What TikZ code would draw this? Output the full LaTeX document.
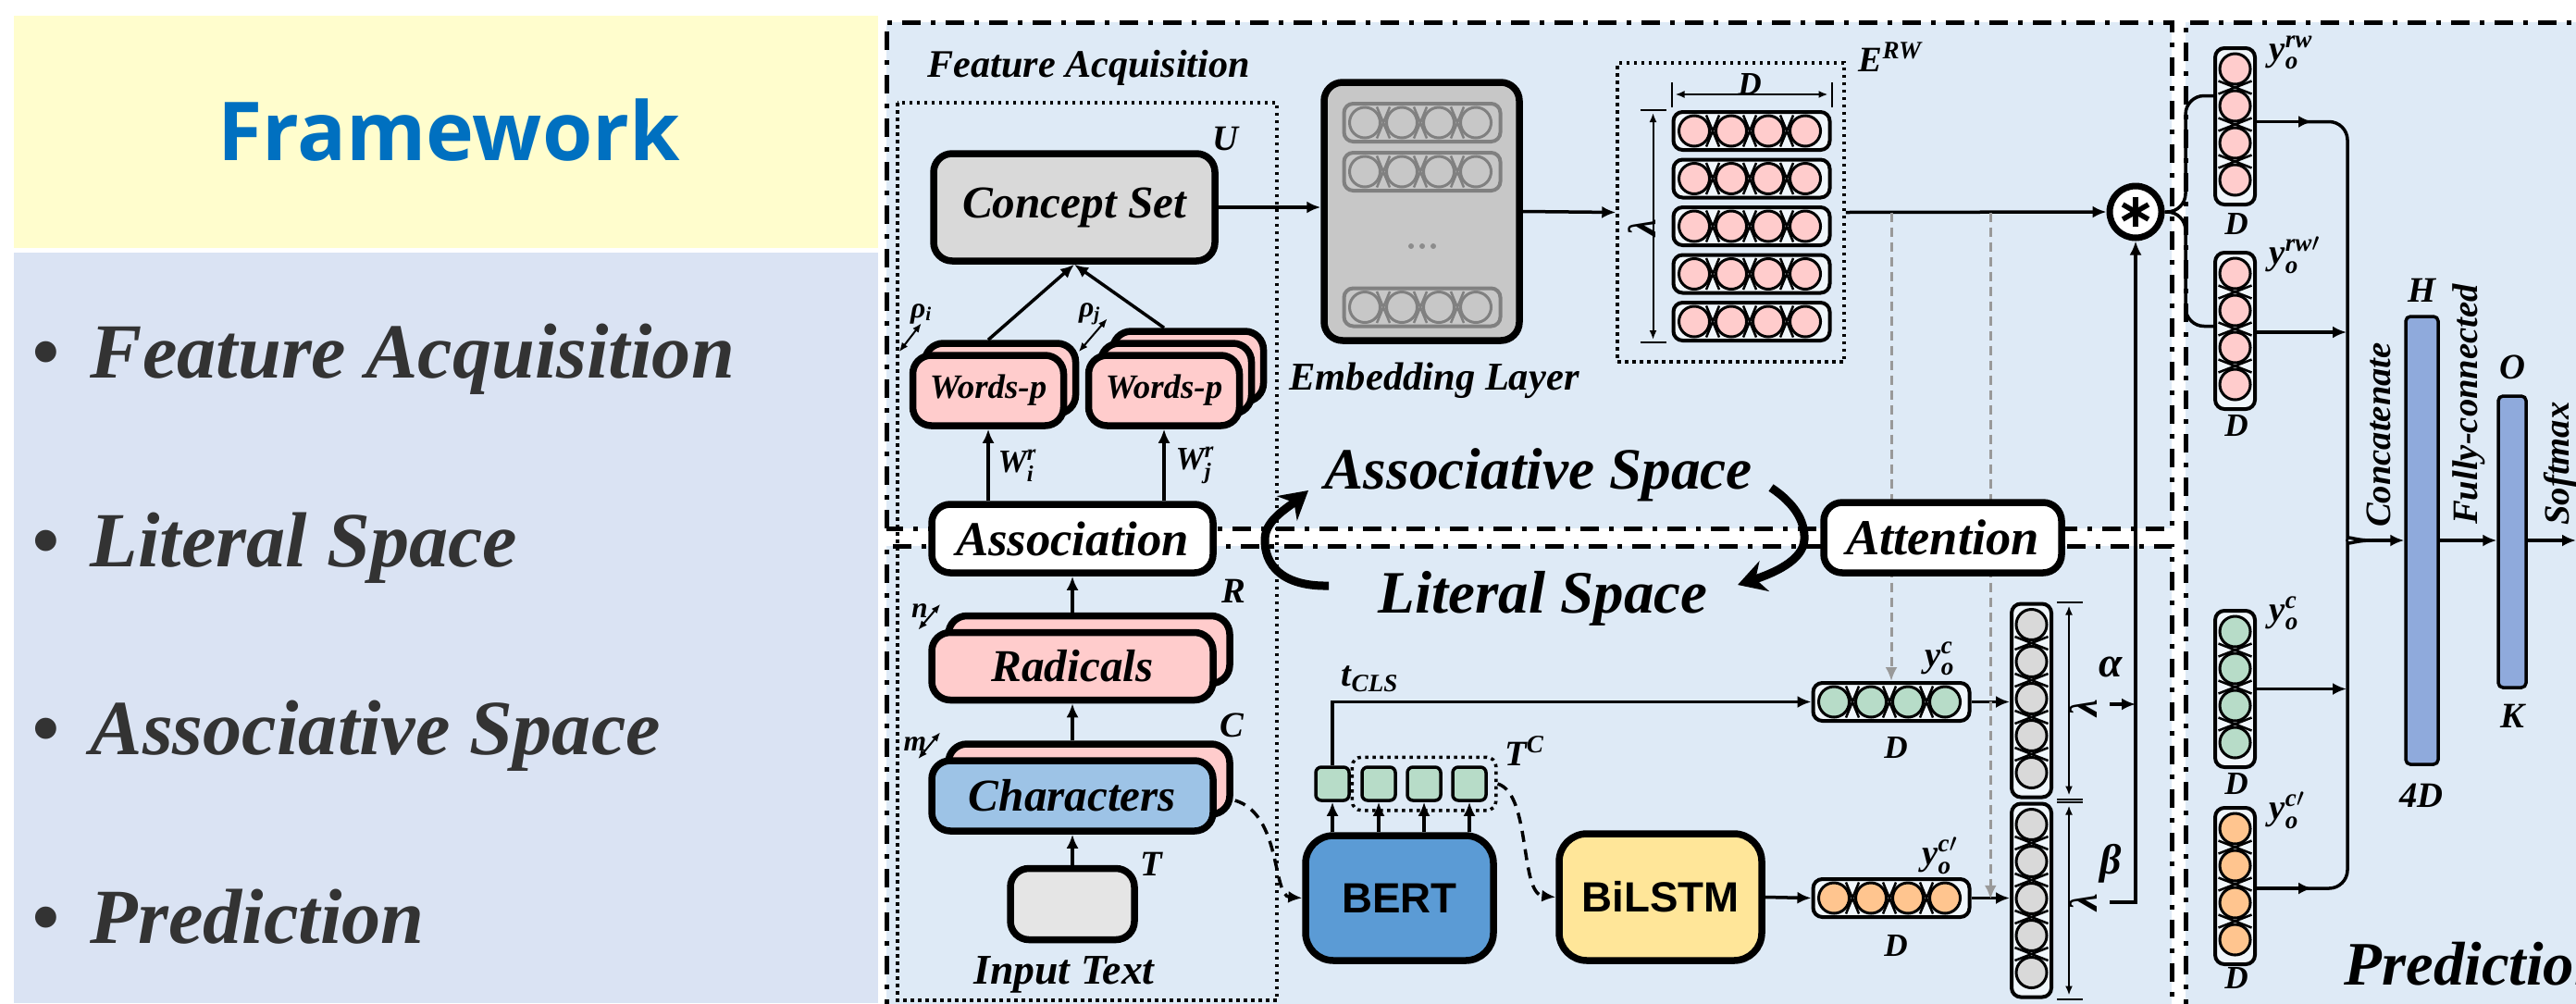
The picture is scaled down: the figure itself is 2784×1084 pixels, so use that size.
\documentclass[tikz,border=0pt]{standalone}
\usepackage{amsmath}
\usepackage{fontspec}
\setmainfont{Liberation Serif}
\newfontfamily\sansbold{Liberation Sans}
\newfontfamily\titlefont{Open Sans}
\usetikzlibrary{arrows.meta,calc,fit}

\definecolor{titleblue}{RGB}{0,112,192}
\definecolor{titlebg}{RGB}{255,253,205}
\definecolor{panelbg}{RGB}{218,227,243}
\definecolor{diagbg}{RGB}{222,234,246}
\definecolor{pinkc}{RGB}{255,204,204}
\definecolor{charblue}{RGB}{157,195,230}
\definecolor{bertblue}{RGB}{91,155,213}
\definecolor{lstmyellow}{RGB}{255,230,153}
\definecolor{greenc}{RGB}{183,220,200}
\definecolor{orangec}{RGB}{255,197,143}
\definecolor{grayc}{RGB}{217,217,217}
\definecolor{barblue}{RGB}{143,170,220}
\definecolor{bullettext}{RGB}{51,51,51}

\newcommand{\fsz}[1]{\fontsize{#1}{#1}\selectfont}

% horizontal vector: [line colour]{name}{centre}{cell fill}{cells}
\newcommand{\hvec}[5][black]{%
  \node[vecbox, draw=#1, minimum width=#5*4mm+0.9mm, minimum height=4.1mm] (#2) at #3 {};
  \foreach \k in {1,...,#5}{\ifnum\k<#5\relax
    \draw[#1, line width=0.25mm] ($(#2.west)+(40*\k-2.5,-17)$) -- ($(#2.west)+(40*\k+11.5,17)$)
      ($(#2.west)+(40*\k-2.5,17)$) -- ($(#2.west)+(40*\k+11.5,-17)$);\fi}
  \foreach \k in {1,...,#5}
    \filldraw[fill=#4, draw=#1, line width=0.3mm] ($(#2.west)+(40*\k-15.5,0)$) circle (1.65mm);
}
% vertical vector
\newcommand{\vvec}[5][black]{%
  \node[vecbox, draw=#1, minimum height=#5*4mm+0.9mm, minimum width=4.3mm] (#2) at #3 {};
  \foreach \k in {1,...,#5}{\ifnum\k<#5\relax
    \draw[#1, line width=0.25mm] ($(#2.north)+(-18,40*\k-2.5)$) -- ($(#2.north)+(18,40*\k+11.5)$)
      ($(#2.north)+(18,40*\k-2.5)$) -- ($(#2.north)+(-18,40*\k+11.5)$);\fi}
  \foreach \k in {1,...,#5}
    \filldraw[fill=#4, draw=#1, line width=0.3mm] ($(#2.north)+(0,40*\k-15.5)$) circle (1.65mm);
}

\begin{document}
\begin{tikzpicture}[x=0.1mm, y=-0.1mm,
  blk/.style={draw, line width=0.75mm, rounded corners=2mm, inner sep=0pt, align=center,
              font=\bfseries\itshape\fsz{#1}},
  blk/.default=12,
  vecbg/.style={fill=white!55!diagbg},
  vecbox/.style={draw, line width=0.4mm, rounded corners=1mm, inner sep=0pt, vecbg},
  sq/.style={draw, line width=0.35mm, rounded corners=0.6mm, fill=greenc, minimum size=3.6mm, inner sep=0pt},
  bar/.style={draw, line width=0.35mm, rounded corners=0.5mm, fill=barblue, inner sep=0pt},
  dotbox/.style={draw, line width=0.35mm, dash pattern=on 0.35mm off 0.45mm, inner sep=0pt},
  frame/.style={draw, line width=0.5mm, dash pattern=on 2mm off 1.1mm on 0.5mm off 1.1mm},
  arr/.style={-{Latex[length=1.5mm,width=1.3mm]}, line width=0.35mm},
  darr/.style={arr, dash pattern=on 1.2mm off 0.8mm},
  gdarr/.style={-{Latex[length=1.5mm,width=1.3mm]}, line width=0.3mm, draw=black!40, dash pattern=on 1mm off 0.6mm},
  dimarr/.style={{Latex[length=1mm,width=0.8mm]}-{Latex[length=1mm,width=0.8mm]}, line width=0.2mm},
  brace/.style={line width=0.35mm, rounded corners=2mm},
  bigarr/.style={-{Stealth[length=3mm,width=3.4mm]}, line width=0.9mm},
  lbl/.style={font=\bfseries\itshape\fsz{#1}, inner sep=0pt},
  lbl/.default=10,
  bullet/.style={anchor=base west, text=bullettext, font=\bfseries\itshape\fsz{24}, inner sep=0pt}]
  \useasboundingbox (0,0) rectangle (2784,1084);
  \fill[white] (0,0) rectangle (2784,1084);

  % left panel
  \fill[titlebg] (15,17) rectangle (949,268);
  \fill[panelbg] (15,273) rectangle (949,1084);
  \node[font=\titlefont\bfseries\fsz{25}, text=titleblue] (title) at (485,141) {Framework};
  \node[bullet] (b1) at (34,408) {\textbullet\hspace{0.4em}Feature Acquisition};
  \node[bullet] (b2) at (34,612) {\textbullet\hspace{0.4em}Literal Space};
  \node[bullet] (b3) at (34,815) {\textbullet\hspace{0.4em}Associative Space};
  \node[bullet] (b4) at (34,1019) {\textbullet\hspace{0.4em}Prediction};

  % regions
  \fill[diagbg] (958,24) rectangle (2347,571);
  \fill[diagbg] (958,590) rectangle (2347,1100);
  \fill[diagbg] (2362,24) rectangle (2800,1100);
  \draw[frame] (958,571) -- (958,24) -- (2347,24) -- (2347,571) -- cycle;
  \draw[frame] (958,1100) -- (958,590) -- (2347,590) -- (2347,1100);
  \draw[frame] (2362,1100) -- (2362,24) -- (2800,24);
  \node[lbl=12, anchor=base west] (falbl) at (1002,83) {Feature Acquisition};
  \draw[dotbox] (970,111) rectangle (1380,1081);

  % feature acquisition
  \node[blk=14, fill=black!15, minimum width=30.4mm, minimum height=11.6mm] (concept) at (1161,224) {Concept Set};
  \node[blk, fill=pinkc, minimum width=16.3mm, minimum height=7.6mm] (wordsL2) at (1081,409) {};
  \node[blk=10.5, fill=pinkc, minimum width=16.3mm, minimum height=7.6mm] (wordsL) at (1068,422) {Words-p};
  \node[blk, fill=pinkc, minimum width=16.3mm, minimum height=7.6mm] (wordsR3) at (1284,396) {};
  \node[blk, fill=pinkc, minimum width=16.3mm, minimum height=7.6mm] (wordsR2) at (1271,409) {};
  \node[blk=10.5, fill=pinkc, minimum width=16.3mm, minimum height=7.6mm] (wordsR) at (1258,422) {Words-p};
  \node[blk=15, fill=white, minimum width=30.4mm, minimum height=7.4mm] (assoc) at (1159,582) {Association};
  \node[blk, fill=pinkc, minimum width=30.4mm, minimum height=7.3mm] (radicals2) at (1177,702) {};
  \node[blk=14, fill=pinkc, minimum width=30.4mm, minimum height=7.3mm] (radicals) at (1159,720) {Radicals};
  \node[blk, fill=pinkc, minimum width=30.4mm, minimum height=7.6mm] (chars2) at (1177,842) {};
  \node[blk=14, fill=charblue, minimum width=30.4mm, minimum height=7.6mm] (chars) at (1159,860) {Characters};
  \node[blk, fill=black!10, minimum width=13.4mm, minimum height=7.7mm] (input) at (1159,977) {};
  \node[lbl=13, anchor=base] (inlbl) at (1150,1063) {Input Text};

  \node[lbl=11] (ulbl) at (1324,150) {U};
  \node[lbl=11] (rlbl) at (1333,639) {R};
  \node[lbl=11] (clbl) at (1331,784) {C};
  \node[lbl=11] (tlbl) at (1244,934) {T};
  \node[lbl=9] (rhoi) at (996,339) {ρ$_{\text{i}}$};
  \node[lbl=9] (rhoj) at (1178,339) {ρ$_{\text{j}}$};
  \node[lbl=9] (nlbl) at (994,660) {n};
  \node[lbl=9] (mlbl) at (989,804) {m};
  \node[lbl=10, anchor=west] (wi) at (1078,503) {W$^{\text{r}}_{\text{i}}$};
  \node[lbl=10, anchor=west] (wj) at (1270,503) {W$^{\text{r}}_{\text{j}}$};

  \draw[arr] (wordsL.center |- wordsL2.north) -- (concept.south);
  \draw[arr] (wordsR.center |- wordsR3.north) -- (concept.south);
  \draw[arr] (assoc.north -| wordsL) -- (wordsL.south);
  \draw[arr] (assoc.north -| wordsR) -- (wordsR.south);
  \draw[arr] (radicals.center |- radicals2.north) -- (assoc.south);
  \draw[arr] (chars.center |- chars2.north) -- (radicals.south);
  \draw[arr] (input.north) -- (chars.south);
  \draw[dimarr] ($(wordsL.north west)+(-11,0)$) -- ($(wordsL.north west)+(13,-31)$);
  \draw[dimarr] ($(wordsR.north west)+(-7,0)$) -- ($(wordsR.north west)+(24,-36)$);
  \draw[dimarr] ($(radicals.north west)+(-11,1)$) -- ($(radicals.north west)+(13,-27)$);
  \draw[dimarr] ($(chars.north west)+(-11,2)$) -- ($(chars.north west)+(13,-27)$);

  % embedding layer
  \node[blk, fill=black!22, minimum width=21.1mm, minimum height=27.9mm] (embed) at (1536.5,228.5) {};
  \begin{scope}[vecbg/.style={fill=black!22}]
    \hvec[black!50]{e1}{(1537,132.5)}{black!22}{4}
    \hvec[black!50]{e2}{(1537,185.5)}{black!22}{4}
    \hvec[black!50]{e3}{(1537,332)}{black!22}{4}
  \end{scope}
  \foreach \d in {-12,0,12} \fill[black!45] (1537+\d,266) circle (0.3mm);
  \node[lbl=12.1, anchor=base] (emblbl) at (1550,421) {Embedding Layer};

  % E^RW
  \node[dotbox, minimum width=24.5mm, minimum height=32.3mm] (erw) at (1870.5,229.5) {};
  \foreach \i in {1,...,5} {\hvec{r\i}{(1893,{141.5+51.5*(\i-1)})}{pinkc}{4}}
  \node[lbl=11, anchor=base west] (erwlbl) at (2008,77) {E$^{\text{RW}}$};
  \draw[dimarr] ($(r1.north west)+(4,-17)$) -- ($(r1.north east)+(-4,-17)$);
  \draw[line width=0.2mm] ($(r1.north west)+(0,-30)$) -- ($(r1.north west)+(0,-3)$)
    ($(r1.north east)+(0,-30)$) -- ($(r1.north east)+(0,-3)$);
  \node[lbl=10] (dlbl) at (1891,91) {D};
  \draw[dimarr] ($(r1.north west)+(-20,3)$) -- ($(r5.south west)+(-20,-3)$);
  \draw[line width=0.2mm] ($(r1.north west)+(-34,0)$) -- ($(r1.north west)+(-6,0)$)
    ($(r5.south west)+(-34,0)$) -- ($(r5.south west)+(-6,0)$);
  \node[lbl=12, rotate=90] (lam) at (1775,246) {λ};

  \node[circle, draw, line width=0.7mm, fill=white, minimum size=5.6mm, inner sep=0pt] (mult) at (2308,229) {};
  \foreach \a in {30,90,150}
    \draw[line width=0.55mm] ($(mult.center)+(\a:16)$) -- ($(mult.center)+(\a+180:16)$);
  \draw[arr] (concept.east) -- (concept.east -| embed.west);
  \draw[arr] (embed.east) -- (erw.west);
  \draw[arr] (erw.east) -- (mult.west);

  % space labels
  \node[lbl=18, anchor=base west] (asslbl) at (1431,528) {Associative Space};
  \node[lbl=18.5, anchor=base west] (litlbl) at (1489,662) {Literal Space};
  \coordinate (litend) at (1436,633);
  \coordinate (assend) at (1414,530);
  \coordinate (assout) at (1914,527);
  \coordinate (litin) at (1878,632);
  \draw[bigarr] (litend) .. controls (1385,634) and (1366,610) .. (1367,582)
    .. controls (1368,562) and (1390,550) .. (assend);
  \draw[bigarr] (assout) .. controls (1938,543) and (1951,562) .. (1950,583)
    .. controls (1949,606) and (1915,620) .. (litin);

  % literal space
  \node[blk, fill=bertblue, minimum width=20.3mm, minimum height=13.5mm, rounded corners=3mm,
        font=\sansbold\bfseries\fsz{13}] (bert) at (1512.5,970.5) {BERT};
  \node[blk, fill=lstmyellow, minimum width=21.9mm, minimum height=13.7mm, rounded corners=3mm,
        font=\sansbold\bfseries\fsz{13}] (bilstm) at (1794.5,969.5) {BiLSTM};
  \node[sq] (sq1) at (1440,847) {};
  \node[sq] (sq2) at (1490,847) {};
  \node[sq] (sq3) at (1539,847) {};
  \node[sq] (sq4) at (1588,847) {};
  \node[dotbox, rounded corners=1mm, fit=(sq2)(sq4), inner sep=0.9mm] (tcbox) {};
  \node[lbl=11] (tclbl) at (1648,812) {T$^{\text{C}}$};
  \node[lbl=11] (tcls) at (1481,734) {t$_{\text{CLS}}$};

  \hvec{yc}{(2044,758.5)}{greenc}{4}
  \hvec{ycp}{(2044,970.5)}{orangec}{4}
  \vvec{g1}{(2195.5,757)}{grayc}{5}
  \vvec{g2}{(2195.5,973)}{grayc}{5}
  \node[lbl=11] (yclbl) at (2097,712) {y$^{\text{c}}_{\text{o}}$};
  \node[lbl=11] (ycplbl) at (2097,925) {y$^{\text{c}\prime}_{\text{o}}$};
  \node[lbl=10] (ycd) at (2049,808) {D};
  \node[lbl=10] (ycpd) at (2049,1022) {D};

  \foreach \s in {sq1,sq2,sq3,sq4} \draw[arr] (bert.north -| \s) -- (\s.south);
  \draw[arr] (sq1.north) |- (yc.west);
  \draw[darr] ($(chars2.east)+(2,23)$) .. controls (1385,880) and (1375,968) .. (bert.west);
  \draw[darr] (tcbox.east) .. controls (1655,858) and (1642,966) .. (bilstm.west);
  \draw[arr] (bilstm.east) -- (ycp.west);
  \draw[arr] (yc.east) -- (yc.east -| g1.west);
  \draw[arr] (ycp.east) -- (ycp.east -| g2.west);
  \coordinate (gmid) at ($(ycp.east)!0.5!(g2.west)$);
  \draw[gdarr] (yc.north |- erw.east) -- (yc.north);
  \draw[gdarr] (gmid |- erw.east) -- (gmid);
  \node[blk=15.5, fill=white, minimum width=25.7mm, minimum height=7.6mm] (attn) at (2099.5,581) {Attention};

  \draw[dimarr] ($(g1.north east)+(17,4)$) -- ($(g1.south east)+(17,-4)$);
  \draw[dimarr] ($(g2.north east)+(17,4)$) -- ($(g2.south east)+(17,-4)$);
  \draw[line width=0.2mm] ($(g1.north east)+(4,0)$) -- ($(g1.north east)+(32,0)$)
    ($(g1.south east)+(4,0)$) -- ($(g1.south east)+(32,0)$)
    ($(g2.north east)+(4,0)$) -- ($(g2.north east)+(32,0)$)
    ($(g2.south east)+(4,0)$) -- ($(g2.south east)+(32,0)$);
  \node[lbl=12, rotate=90] (lam1) at (2252,765) {λ};
  \node[lbl=12, rotate=90] (lam2) at (2252,975) {λ};
  \node[lbl=13] (alpha) at (2281,721) {α};
  \node[lbl=13] (beta) at (2281,933) {β};
  \coordinate (alphain) at (2280,761);
  \coordinate (betain) at (2280,975);
  \draw[arr] (alphain) -- (alphain -| mult.south);
  \draw[arr] (betain) -| (mult.south);

  % prediction
  \vvec{p1}{(2415.5,136.5)}{pinkc}{4}
  \vvec{p2}{(2415.5,357.5)}{pinkc}{4}
  \vvec{p3}{(2415.5,744.5)}{greenc}{4}
  \vvec{p4}{(2415.5,957.5)}{orangec}{4}
  \node[lbl=11, anchor=west] (p1lbl) at (2452,57) {y$^{\text{rw}}_{\text{o}}$};
  \node[lbl=11, anchor=west] (p2lbl) at (2452,276) {y$^{\text{rw}\prime}_{\text{o}}$};
  \node[lbl=11, anchor=west] (p3lbl) at (2452,663) {y$^{\text{c}}_{\text{o}}$};
  \node[lbl=11, anchor=west] (p4lbl) at (2452,876) {y$^{\text{c}\prime}_{\text{o}}$};
  \node[lbl=10] (p1d) at (2417,242) {D};
  \node[lbl=10] (p2d) at (2417,460) {D};
  \node[lbl=10] (p3d) at (2417,847) {D};
  \node[lbl=10] (p4d) at (2417,1057) {D};

  \coordinate (split) at (2362,229);
  \draw[brace] (mult.east) -- (split) |- ($(p1.west)+(0,-33)$);
  \draw[brace] (mult.east) -- (split) |- ($(p2.west)+(0,-5)$);

  \coordinate (tip) at (2563,584);
  \coordinate (bracex) at (2537,584);
  \draw[arr] ($(p1.east)+(0,-5)$) -- ++(60,0);
  \draw[brace] ($(p1.east)+(50,-5)$) -| ($(bracex)+(0,-22)$)
    .. controls ($(bracex)+(0,-5)$) and ($(bracex)+(8,0)$) .. (tip);
  \draw[arr] ($(p4.east)+(0,2.5)$) -- ++(60,0);
  \draw[brace] ($(p4.east)+(50,2.5)$) -| ($(bracex)+(0,22)$)
    .. controls ($(bracex)+(0,5)$) and ($(bracex)+(8,0)$) .. (tip);
  \draw[arr] ($(p2.east)+(0,1.5)$) -- ($(p2.east -| bracex)+(-1,1.5)$);
  \draw[arr] (p3.east) -- ($(p3.east -| bracex)+(-1,0)$);

  \node[bar, minimum width=3.5mm, minimum height=48.4mm] (hbar) at (2617.5,584) {};
  \node[bar, minimum width=3mm, minimum height=31.5mm] (obar) at (2715,585.5) {};
  \coordinate (outend) at (2784,584);
  \draw[arr] (tip) -- (tip -| hbar.west);
  \draw[arr] (tip -| hbar.east) -- (tip -| obar.west);
  \draw[arr] (tip -| obar.east) -- (outend);
  \node[lbl=11] (hlbl) at (2617,314) {H};
  \node[lbl=11] (h4d) at (2617,860) {4D};
  \node[lbl=11] (olbl) at (2715,397) {O};
  \node[lbl=11] (klbl) at (2715,774) {K};
  \node[lbl=11, rotate=90] (concat) at (2571,470) {Concatenate};
  \node[lbl=11, rotate=90] (fc) at (2668,437) {Fully-connected};
  \node[lbl=11, rotate=90] (softmax) at (2767,501) {Softmax};
  \node[lbl=19, anchor=base west] (predlbl) at (2533,1064) {Prediction};
\end{tikzpicture}
\end{document}
